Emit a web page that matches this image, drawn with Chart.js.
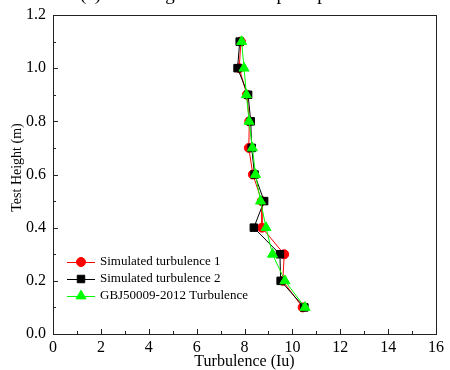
<!DOCTYPE html>
<html>
<head>
<meta charset="utf-8">
<script src="https://cdn.jsdelivr.net/npm/chart.js@4.4.0/dist/chart.umd.min.js"></script>
<style>
html,body{margin:0;padding:0;background:#fff;}
#wrap{width:450px;height:370px;position:relative;}
</style>
</head>
<body>
<div id="wrap"><canvas id="c" width="450" height="370"></canvas></div>
<script>
const heights = [1.1, 1.0, 0.9, 0.8, 0.7, 0.6, 0.5, 0.4, 0.3, 0.2, 0.1];
const simulated1 = [7.85, 7.78, 8.10, 8.20, 8.18, 8.35, 8.72, 8.73, 9.66, 9.60, 10.43];
const simulated2 = [7.80, 7.71, 8.15, 8.26, 8.30, 8.42, 8.82, 8.39, 9.48, 9.51, 10.50];
const gbStandard = [7.88, 7.98, 8.08, 8.19, 8.33, 8.46, 8.67, 8.90, 9.17, 9.69, 10.53];
const seriesNames = ['Simulated turbulence 1', 'Simulated turbulence 2', 'GBJ50009-2012 Turbulence'];
const xTicks = [0, 2, 4, 6, 8, 10, 12, 14, 16];
const yTicks = [0.0, 0.2, 0.4, 0.6, 0.8, 1.0, 1.2];
const titleText = '(a) Test height and wind speed profile';

const FONT = "'Liberation Serif', 'Times New Roman', serif";
const toPts = (xs) => xs.map((v, i) => ({x: v, y: heights[i]}));

const styles = [
  {color: '#ff0000', point: 'circle', radius: 4.5},
  {color: '#000000', point: 'rect', radius: 5.3},
  {color: '#00ff00', point: 'triangle', radius: 5.8}
];
const seriesData = [simulated1, simulated2, gbStandard];

const datasets = seriesData.map((d, i) => ({
  label: seriesNames[i],
  data: toPts(d),
  showLine: true,
  borderColor: styles[i].color,
  backgroundColor: styles[i].color,
  borderWidth: 1,
  pointStyle: styles[i].point,
  pointRadius: styles[i].radius,
  pointBorderWidth: 1,
  pointBackgroundColor: styles[i].color,
  pointBorderColor: styles[i].color,
  order: 3 - i
}));

const framePlugin = {
  id: 'frame',
  afterDraw(chart) {
    const ctx = chart.ctx;
    const a = chart.chartArea;
    const xs = chart.scales.x, ys = chart.scales.y;
    ctx.save();
    ctx.strokeStyle = '#222';
    ctx.lineWidth = 1;
    ctx.strokeRect(Math.round(a.left) + 0.5, Math.round(a.top) + 0.5, Math.round(a.right - a.left), Math.round(a.bottom - a.top));
    for (let v = 0; v <= 16; v += 1) {
      const px = Math.round(xs.getPixelForValue(v)) + 0.5;
      const len = (v % 2 === 0) ? 5 : 3;
      ctx.beginPath();
      ctx.moveTo(px, a.bottom);
      ctx.lineTo(px, a.bottom - len);
      ctx.stroke();
    }
    for (let k = 0; k <= 12; k++) {
      const py = Math.round(ys.getPixelForValue(k / 10)) + 0.5;
      const len = (k % 2 === 0) ? 5 : 3;
      ctx.beginPath();
      ctx.moveTo(a.left, py);
      ctx.lineTo(a.left + len, py);
      ctx.stroke();
    }
    const lx = 67, lw = 28, tx = 100;
    const rows = [262, 279, 296];
    ctx.font = '13px ' + FONT;
    ctx.textBaseline = 'middle';
    chart.data.datasets.forEach((ds, i) => {
      const y = rows[i];
      ctx.strokeStyle = ds.borderColor;
      ctx.lineWidth = 1;
      ctx.beginPath();
      ctx.moveTo(lx, y + 0.5);
      ctx.lineTo(lx + lw, y + 0.5);
      ctx.stroke();
      ctx.fillStyle = ds.pointBackgroundColor;
      ctx.strokeStyle = ds.pointBorderColor;
      Chart.helpers.drawPoint(ctx, {pointStyle: ds.pointStyle, radius: ds.pointRadius, borderWidth: 1, rotation: 0}, lx + lw / 2, y);
      ctx.fillStyle = '#000';
      ctx.fillText(ds.label, tx, y);
    });
    ctx.font = '19px ' + FONT;
    ctx.textBaseline = 'alphabetic';
    ctx.textAlign = 'left';
    ctx.fillStyle = '#000';
    ctx.fillText(titleText, 80, 0);
    ctx.restore();
  }
};

new Chart(document.getElementById('c'), {
  type: 'scatter',
  data: {datasets},
  options: {
    responsive: false,
    animation: false,
    devicePixelRatio: 1,
    layout: {padding: {top: 15, right: 5, left: 0, bottom: 0}},
    plugins: {legend: {display: false}, tooltip: {enabled: false}, title: {display: false}},
    scales: {
      x: {
        type: 'linear', min: 0, max: 16,
        afterFit(s) { s.height = 36; },
        afterBuildTicks(s) { s.ticks = xTicks.map(v => ({value: v})); },
        grid: {display: false, drawTicks: false},
        border: {display: false},
        ticks: {padding: 6, color: '#000', font: {family: FONT, size: 16, lineHeight: 1}, callback: v => String(v), maxRotation: 0},
        title: {display: true, text: 'Turbulence (Iu)', color: '#000', font: {family: FONT, size: 16, lineHeight: 1}, padding: {top: 0, bottom: 0}}
      },
      y: {
        type: 'linear', min: 0, max: 1.2,
        afterFit(s) { s.width = 53; },
        afterBuildTicks(s) { s.ticks = yTicks.map(v => ({value: v})); },
        grid: {display: false, drawTicks: false},
        border: {display: false},
        ticks: {padding: 7, color: '#000', font: {family: FONT, size: 16, lineHeight: 1}, callback: v => Number(v).toFixed(1)},
        title: {display: true, text: '    Test Height (m)', color: '#000', font: {family: FONT, size: 14, lineHeight: 1.2}, padding: {top: 9, bottom: 0}}
      }
    }
  },
  plugins: [framePlugin]
});
</script>
</body>
</html>
